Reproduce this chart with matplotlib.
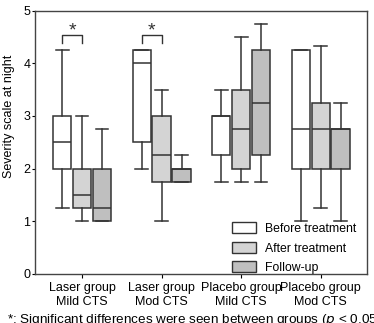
import matplotlib
matplotlib.use("Agg")
import matplotlib.pyplot as plt
from matplotlib.patches import Patch
import numpy as np

# Box plot summaries: (whislo, q1, med, q3, whishi)
groups = ["Laser group\nMild CTS", "Laser group\nMod CTS",
          "Placebo group\nMild CTS", "Placebo group\nMod CTS"]
series = ["Before treatment", "After treatment", "Follow-up"]

before = [(1.25, 2.0, 2.5, 3.0, 4.25),
          (2.0, 2.5, 4.0, 4.25, 4.25),
          (1.75, 2.25, 3.0, 3.0, 3.5),
          (1.0, 2.0, 2.75, 4.25, 4.25)]
after = [(1.0, 1.25, 1.5, 2.0, 3.0),
         (1.0, 1.75, 2.25, 3.0, 3.5),
         (1.75, 2.0, 2.75, 3.5, 4.5),
         (1.25, 2.0, 2.75, 3.25, 4.33)]
follow = [(1.0, 1.0, 1.25, 2.0, 2.75),
          (1.75, 1.75, 2.0, 2.0, 2.25),
          (1.75, 2.25, 3.25, 4.25, 4.75),
          (1.0, 2.0, 2.75, 2.75, 3.25)]

colors = ["white", "#d4d4d4", "#bfbfbf"]
sig_groups = [0, 1]  # brackets between before and after

plt.rcParams["font.family"] = "Liberation Sans"
fig = plt.figure(figsize=(3.74, 3.23), dpi=100)
ax = fig.add_axes([0.094, 0.152, 0.887, 0.815])

edge = "#333333"
offsets = [-0.25, 0.0, 0.25]
for s, (data, col, off) in enumerate(zip([before, after, follow], colors, offsets)):
    stats = []
    for vals in data:
        lo, q1, med, q3, hi = vals
        stats.append(dict(whislo=lo, q1=q1, med=med, q3=q3, whishi=hi, fliers=[]))
    pos = np.arange(1, len(groups) + 1) + off
    ax.bxp(stats, positions=pos, widths=0.23, capwidths=0.16, patch_artist=True,
           showfliers=False, manage_ticks=False,
           boxprops=dict(facecolor=col, edgecolor=edge, linewidth=1.1),
           medianprops=dict(color=edge, linewidth=1.1),
           whiskerprops=dict(color=edge, linewidth=1.1),
           capprops=dict(color=edge, linewidth=1.1))

# significance brackets
for g in sig_groups:
    x0 = g + 1 - 0.25
    x1 = g + 1
    ax.plot([x0, x0, x1, x1], [4.39, 4.54, 4.54, 4.39], color=edge, lw=1.0)
    ax.text((x0 + x1) / 2, 4.62, "*", ha="center", va="center", fontsize=14, color=edge)

ax.set_xlim(0.41, 4.58)
ax.set_ylim(0, 5)
ax.set_xticks(np.arange(1, len(groups) + 1))
ax.set_xticklabels(groups, fontsize=9, linespacing=1.2)
ax.set_yticks(range(6))
ax.tick_params(axis="y", labelsize=9, length=2, pad=1.5)
ax.tick_params(axis="x", length=3, pad=3)
ax.set_ylabel("Severity scale at night", fontsize=9)
ax.yaxis.set_label_coords(-0.062, 0.6)
for sp in ax.spines.values():
    sp.set_color("#444444")
    sp.set_linewidth(1.0)

handles = [Patch(facecolor=c, edgecolor=edge, linewidth=1.0) for c in colors]
ax.legend(handles, series, loc="lower left", frameon=False, fontsize=8.8,
          handlelength=2.0, handleheight=1.0, labelspacing=0.55,
          handletextpad=0.75, borderaxespad=0.0, borderpad=0.0,
          bbox_to_anchor=(0.593, 0.0))

fig.text(0.02, 1 - 312 / 323, "*: Significant differences were seen between groups ($p$ < 0.05)",
         fontsize=9.7, ha="left", va="top")

fig.savefig("out.png", dpi=100)
